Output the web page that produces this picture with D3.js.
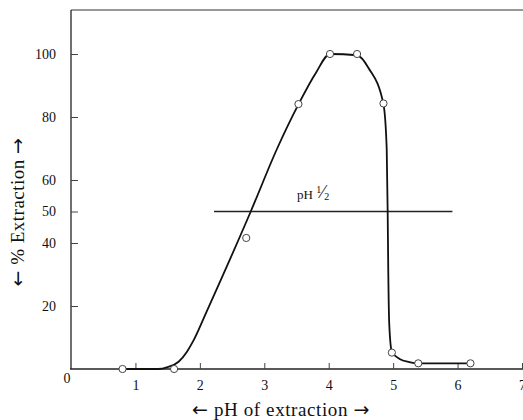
<!DOCTYPE html>
<html>
  <head>
    <meta charset="utf-8">
    <title>pH extraction</title>
    <script src="https://cdnjs.cloudflare.com/ajax/libs/d3/7.8.5/d3.min.js"></script>
    <style>
      body { margin: 0; background: #fff; }
      text { font-family: "Liberation Serif", "DejaVu Serif", serif; fill: #111; }
      .arr { font-family: "DejaVu Sans", sans-serif; }
    </style>
  </head>
  <body>
    <script>
      // measured points (pH, % extraction)
      var pointPH  = [0.8, 1.6, 2.72, 3.53, 4.02, 4.44, 4.85, 4.98, 5.39, 6.2];
      var pointPct = [0,   0,   41.6, 84.1, 100,  100,  84.3, 5.2,  1.8,  1.8];

      // hand-drawn curve through the points
      var curvePH  = [0.8, 1.35, 1.5, 1.67, 1.8, 1.9, 2.1, 2.79, 3.2, 3.53, 3.8, 4.02, 4.44, 4.62, 4.85, 4.9, 4.915, 4.925, 4.94, 4.98, 5.1, 5.25, 5.39, 6.2];
      var curvePct = [0,   0,    0.6, 2.3,  5.5, 9,   18,  50,   70,  84,   94,  100,  99.6, 95.5, 84,   70,  50,    30,    14,   5.5,  3.2, 2.2,  1.8,  1.8];

      var xTicks = [1, 2, 3, 4, 5, 6, 7];
      var yTicks = [20, 40, 50, 60, 80, 100];
      var halfLine = [2.22, 5.92]; // pH range of the pH 1/2 line at 50 %

      var W = 523, H = 420;
      var svg = d3.select("body").append("svg")
        .attr("width", W)
        .attr("height", H);

      var x = d3.scaleLinear().domain([0, 7]).range([71, 522]);
      var y = d3.scaleLinear().domain([0, 100]).range([369, 54]);

      // frame: left axis, top line
      svg.append("line")
        .attr("x1", x(0)).attr("x2", x(0))
        .attr("y1", 10).attr("y2", y(0))
        .attr("stroke", "#222").attr("stroke-width", 1.3);
      svg.append("line")
        .attr("x1", x(0)).attr("x2", W)
        .attr("y1", 10).attr("y2", 10)
        .attr("stroke", "#333").attr("stroke-width", 1.2);

      // x axis
      var xAxis = d3.axisBottom(x)
        .tickValues(xTicks)
        .tickSize(-6)
        .tickPadding(11)
        .tickFormat(d3.format("d"));
      var gx = svg.append("g")
        .attr("transform", "translate(0," + y(0) + ")")
        .call(xAxis);
      gx.select(".domain").attr("d", "M" + (x(0) - 1) + ",0H" + W)
        .attr("stroke", "#222").attr("stroke-width", 1.3);
      gx.selectAll(".tick line").attr("stroke", "#444");
      gx.selectAll(".tick text")
        .style("font-family", "Liberation Serif, serif")
        .style("font-size", "14px")
        .attr("fill", "#111");

      // y axis
      var yAxis = d3.axisLeft(y)
        .tickValues(yTicks)
        .tickSize(-7)
        .tickPadding(15);
      var gy = svg.append("g")
        .attr("transform", "translate(" + x(0) + ",0)")
        .call(yAxis);
      gy.select(".domain").remove();
      gy.selectAll(".tick line").attr("stroke", "#444");
      gy.selectAll(".tick text")
        .style("font-family", "Liberation Serif, serif")
        .style("font-size", "14px")
        .attr("fill", "#111");

      svg.append("text")
        .attr("x", x(0) - 4)
        .attr("y", y(0) + 14)
        .attr("text-anchor", "middle")
        .style("font-size", "14px")
        .text("0");

      // pH 1/2 line
      svg.append("line")
        .attr("x1", x(halfLine[0])).attr("x2", x(halfLine[1]))
        .attr("y1", y(50)).attr("y2", y(50))
        .attr("stroke", "#222").attr("stroke-width", 1.3);

      var lbl = svg.append("text")
        .attr("x", 297)
        .attr("y", y(50) - 13)
        .style("font-size", "13px");
      lbl.append("tspan").text("pH ");
      lbl.append("tspan").attr("dy", -6).style("font-size", "10px").text("1");
      lbl.append("tspan").attr("dy", 5).style("font-size", "18px").text("\u2044");
      lbl.append("tspan").attr("dy", 2).style("font-size", "10px").text("2");

      // curve
      var line = d3.line()
        .x(function (d) { return x(d[0]); })
        .y(function (d) { return y(d[1]); })
        .curve(d3.curveMonotoneX);

      svg.append("path")
        .datum(d3.zip(curvePH, curvePct))
        .attr("d", line)
        .attr("fill", "none")
        .attr("stroke", "#111")
        .attr("stroke-width", 1.8);

      // points
      svg.selectAll("circle.pt")
        .data(d3.zip(pointPH, pointPct))
        .enter().append("circle")
        .attr("class", "pt")
        .attr("cx", function (d) { return x(d[0]); })
        .attr("cy", function (d) { return y(d[1]); })
        .attr("r", 3.6)
        .attr("fill", "#fff")
        .attr("stroke", "#444")
        .attr("stroke-width", 1);

      // axis titles
      var yt = svg.append("text")
        .attr("transform", "translate(24,212) rotate(-90)")
        .attr("text-anchor", "middle")
        .style("font-size", "19px")
        .style("letter-spacing", "0.5px");
      yt.append("tspan").attr("class", "arr").text("\u2190");
      yt.append("tspan").text(" % Extraction ");
      yt.append("tspan").attr("class", "arr").text("\u2192");

      var xt = svg.append("text")
        .attr("x", 281)
        .attr("y", 416)
        .attr("text-anchor", "middle")
        .style("font-size", "19px")
        .style("letter-spacing", "0.6px");
      xt.append("tspan").attr("class", "arr").text("\u2190");
      xt.append("tspan").text(" pH of extraction ");
      xt.append("tspan").attr("class", "arr").text("\u2192");
    </script>
  </body>
</html>
